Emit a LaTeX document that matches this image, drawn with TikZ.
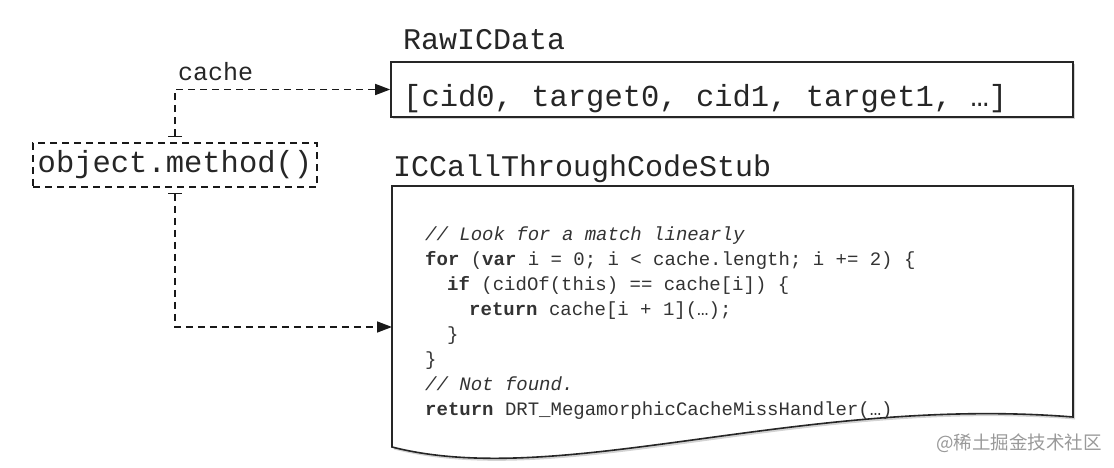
\documentclass[tikz,border=0pt]{standalone}
\usepackage{fontspec}
\setmonofont{Liberation Mono}
\newfontfamily\cjk{Noto Sans CJK SC}
\usetikzlibrary{arrows.meta,shadows,calc}
\begin{document}
\begin{tikzpicture}[x=1pt,y=-1pt,
  bigtxt/.style={font=\fontsize{30}{36}\selectfont\ttfamily, text=black!85, inner sep=0pt},
  codetxt/.style={font=\fontsize{19}{24}\selectfont\ttfamily, text=black!80, inner sep=0pt, anchor=base west},
  box/.style={draw=black!85, line width=1.6pt, fill=white, drop shadow={shadow xshift=2pt,shadow yshift=-2.5pt,opacity=0.35}},
  dashbox/.style={draw=black!90, line width=1.5pt, dash pattern=on 7pt off 5pt},
  conn/.style={draw=black!90, line width=1.5pt, dash pattern=on 7pt off 5pt, {Bar[width=14pt]}-{Triangle[length=15pt,width=11pt]}, shorten <=5pt},
]
\useasboundingbox (0,0) rectangle (1114,468);

% labels
\node[bigtxt, anchor=base west] (rawlbl) at (403,50) {RawICData};
\node[bigtxt, anchor=base west] (stublbl) at (393,177) {ICCallThroughCodeStub};
\node[font=\fontsize{25}{30}\selectfont\ttfamily, text=black!85, inner sep=0pt, anchor=base west] (cachelbl) at (178,81) {cache};

% RawICData box
\node[box, minimum width=682pt, minimum height=55pt, inner sep=0pt] (raw) at (732,89.5) {};
\node[bigtxt, font=\fontsize{30.5}{36}\selectfont\ttfamily, anchor=base west] (rawtxt) at (403,107) {[cid0, target0, cid1, target1, …]};

% object.method()
\node[dashbox, bigtxt, font=\fontsize{30.5}{36}\selectfont\ttfamily, minimum width=284pt, minimum height=44pt] (obj) at (175,165) {object.method()};

% code stub document shape
\path[box] (392,186) -- (1073,186) -- (1073,417) .. controls (800,395) and (560,490) .. (392,447) -- cycle;
\coordinate (docin) at (392,327);

% code
\node[codetxt] (c1) at (425,240) {\textit{// Look for a match linearly}};
\node[codetxt] (c2) at (425,265) {\textbf{for} (\textbf{var} i = 0; i < cache.length; i += 2) \{};
\node[codetxt] (c3) at (447,290) {\textbf{if} (cidOf(this) == cache[i]) \{};
\node[codetxt] (c4) at (469,315) {\textbf{return} cache[i + 1](…);};
\node[codetxt] (c5) at (447,340) {\}};
\node[codetxt] (c6) at (425,365) {\}};
\node[codetxt] (c7) at (425,390) {\textit{// Not found.}};
\node[codetxt] (c8) at (425,415) {\textbf{return} DRT\_MegamorphicCacheMissHandler(…)};

% connectors
\draw[conn] (obj.north) |- (raw.west);
\draw[conn] (obj.south) |- (docin);

% watermark
\node[font=\cjk\fontsize{18.5}{22}\selectfont, text=black!40, anchor=west, inner sep=0pt] (wm) at (936,443) {@稀土掘金技术社区};
\end{tikzpicture}
\end{document}
